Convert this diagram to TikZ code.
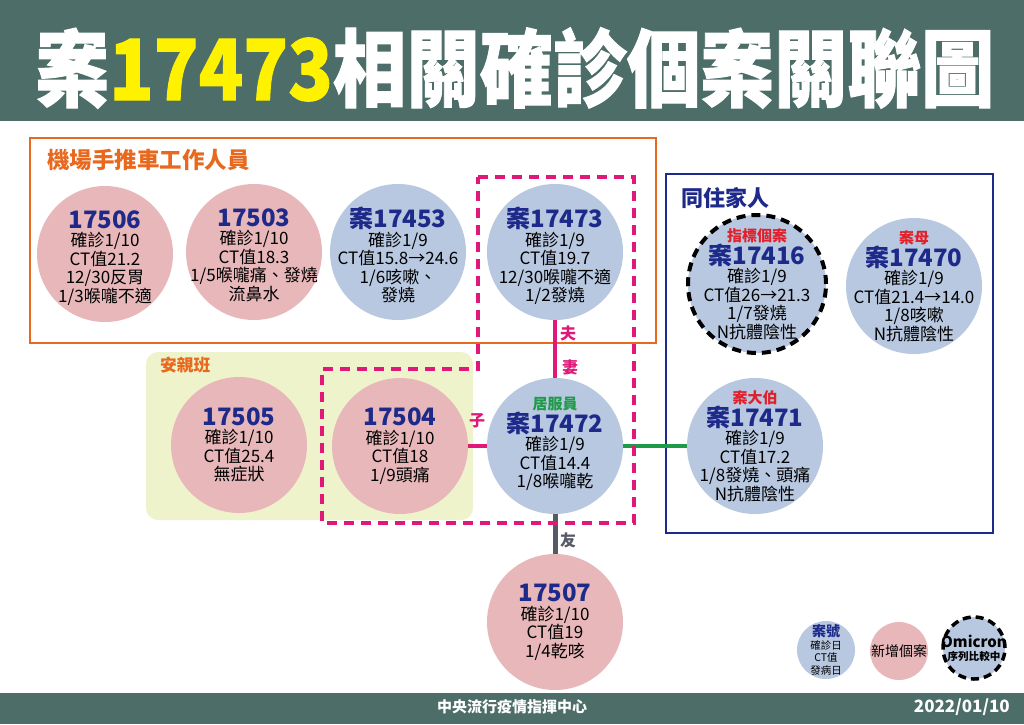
\documentclass[tikz,border=0pt]{standalone}
\usepackage{fontspec}
\setmainfont{Noto Sans CJK TC}
\newfontfamily\titlefont{Noto Sans CJK TC}[FakeBold=1.2]
\definecolor{barc}{HTML}{4D6E68}
\definecolor{titleyellow}{HTML}{FFF200}
\definecolor{casepink}{HTML}{E8B7BA}
\definecolor{caseblue}{HTML}{B8C8E0}
\definecolor{navy}{HTML}{1E2A8A}
\definecolor{orangec}{HTML}{E8691E}
\definecolor{kidbox}{HTML}{EEF3CB}
\definecolor{pinkc}{HTML}{E0187A}
\definecolor{greenc}{HTML}{1E9A48}
\definecolor{grayc}{HTML}{555A66}
\definecolor{redc}{HTML}{E0202A}
\newcommand\hdr[1]{{\fontsize{24}{26}\selectfont\bfseries\color{navy}#1}}
\newcommand\redlab[1]{{\fontsize{15}{16}\selectfont\bfseries\color{redc}#1}}
\tikzset{
  case/.style={circle, minimum size=136pt, inner sep=0pt},
  pinkcase/.style={case, fill=casepink},
  bluecase/.style={case, fill=caseblue},
  casetext/.style={inner sep=0pt, align=center, font=\fontsize{17}{18.5}\selectfont, text=black},
  omi/.style={draw=black, line width=4pt, dash pattern=on 9pt off 6pt},
  grouptitle/.style={anchor=west, inner sep=0pt, font=\bfseries},
  rel/.style={inner sep=0pt, font=\fontsize{16}{16}\selectfont\bfseries},
  pinkline/.style={draw=pinkc, line width=4pt},
}
\begin{document}
\begin{tikzpicture}[x=1pt,y=-1pt]
\useasboundingbox (0,0) rectangle (1024,724);
\fill[white] (0,0) rectangle (1024,724);
% bars
\fill[barc] (0,0) rectangle (1024,121);
\fill[barc] (0,693) rectangle (1024,724);
\node[inner sep=0pt, text=white] (title) at (515,68)
  {\scalebox{1}[1.15]{\titlefont\bfseries\fontsize{73.5}{80}\selectfont 案\textcolor{titleyellow}{17473}相關確診個案關聯圖}};
\node[inner sep=0pt, text=white, font=\fontsize{15}{16}\selectfont\bfseries] (footl) at (512,707) {中央流行疫情指揮中心};
\node[inner sep=0pt, text=white, font=\fontsize{17}{18}\selectfont\bfseries, anchor=east] (footr) at (1010,707) {2022/01/10};
% group boxes
\fill[kidbox, rounded corners=12pt] (146,352) rectangle (473,520);
\draw[orangec, line width=1.5pt] (30,138) rectangle (656,343);
\draw[navy, line width=1.5pt] (666,174) rectangle (993,533);
\node[grouptitle, text=orangec, font=\fontsize{22.5}{24}\selectfont\bfseries] (g1) at (47,160) {機場手推車工作人員};
\node[grouptitle, text=navy, font=\fontsize{22}{24}\selectfont\bfseries] (g2) at (681,198) {同住家人};
\node[grouptitle, text=orangec, font=\fontsize{16.7}{18}\selectfont\bfseries] (g3) at (160,365) {安親班};
% case circles
\node[pinkcase] (c17506) at (105,254) {};
\node[pinkcase] (c17503) at (254,252) {};
\node[bluecase] (c17453) at (398,252) {};
\node[bluecase] (c17473) at (555,252) {};
\node[pinkcase] (c17505) at (239,445) {};
\node[pinkcase] (c17504) at (400,446) {};
\node[bluecase] (c17472) at (555,446) {};
\node[pinkcase] (c17507) at (555,622) {};
\node[bluecase, omi, minimum size=138pt] (c17416) at (757,284) {};
\node[bluecase] (c17470) at (914,286) {};
\node[bluecase] (c17471) at (755,446) {};
% case texts
\node[casetext] (t17506) at ([yshift=-4pt]c17506.center) {\hdr{17506}\\確診1/10\\CT值21.2\\12/30反胃\\1/3喉嚨不適};
\node[casetext] (t17503) at ([yshift=-3pt]c17503.center) {\hdr{17503}\\確診1/10\\CT值18.3\\1/5喉嚨痛、發燒\\流鼻水};
\node[casetext] (t17453) at ([yshift=-3pt]c17453.center) {\hdr{案17453}\\確診1/9\\CT值15.8→24.6\\1/6咳嗽、\\發燒};
\node[casetext] (t17473) at ([yshift=-4pt]c17473.center) {\hdr{案17473}\\確診1/9\\CT值19.7\\12/30喉嚨不適\\1/2發燒};
\node[casetext] (t17505) at (c17505.center) {\hdr{17505}\\確診1/10\\CT值25.4\\無症狀};
\node[casetext] (t17504) at (c17504.center) {\hdr{17504}\\確診1/10\\CT值18\\1/9頭痛};
\node[casetext] (t17472) at ([yshift=2pt]c17472.center) {{\fontsize{15}{16}\selectfont\bfseries\color{greenc}居服員}\\\hdr{案17472}\\確診1/9\\CT值14.4\\1/8喉嚨乾};
\node[casetext] (t17507) at (c17507.center) {\hdr{17507}\\確診1/10\\CT值19\\1/4乾咳};
\node[casetext] (t17416) at (c17416.center) {\redlab{指標個案}\\\hdr{案17416}\\確診1/9\\CT值26→21.3\\1/7發燒\\N抗體陰性};
\node[casetext] (t17470) at (c17470.center) {\redlab{案母}\\\hdr{案17470}\\確診1/9\\CT值21.4→14.0\\1/8咳嗽\\N抗體陰性};
\node[casetext] (t17471) at (c17471.center) {\redlab{案大伯}\\\hdr{案17471}\\確診1/9\\CT值17.2\\1/8發燒、頭痛\\N抗體陰性};
% connectors
\draw[pinkline] (c17473) -- (c17472);
\draw[pinkline] (c17504) -- (c17472);
\draw[greenc, line width=4pt] (c17472) -- (c17471);
\draw[grayc, line width=5pt] (c17472) -- (c17507);
\node[rel, text=pinkc] (lfu) at (568,333) {夫};
\node[rel, text=pinkc] (lqi) at (570,367) {妻};
\node[rel, text=pinkc] (lzi) at (477,421) {子};
\node[rel, text=grayc] (lyou) at (568,540) {友};
% dashed household outline
\draw[pinkc, line width=3.5pt, dash pattern=on 10pt off 7pt]
  (478,177) -- (634,177) -- (634,523) -- (322,523) -- (322,369) -- (478,369) -- cycle;
% legend
\node[bluecase, minimum size=58pt] (lg1) at (826,650) {};
\node[casetext, font=\fontsize{10.5}{12.5}\selectfont] (lt1) at (lg1.center)
  {{\fontsize{14}{15}\selectfont\bfseries\color{navy}案號}\\確診日\\CT值\\發病日};
\node[pinkcase, minimum size=58pt] (lg2) at (899,651) {};
\node[casetext, font=\fontsize{14}{15}\selectfont\color{redc}] (lt2) at (lg2.center) {新增個案};
\node[bluecase, omi, line width=3.5pt, dash pattern=on 8pt off 5pt, minimum size=62pt] (lg3) at (974,648) {};
\node[casetext, font=\fontsize{10.6}{13}\selectfont\bfseries] (lt3) at (lg3.center)
  {{\fontsize{15}{16}\selectfont\bfseries Omicron}\\序列比較中};
\end{tikzpicture}
\end{document}
